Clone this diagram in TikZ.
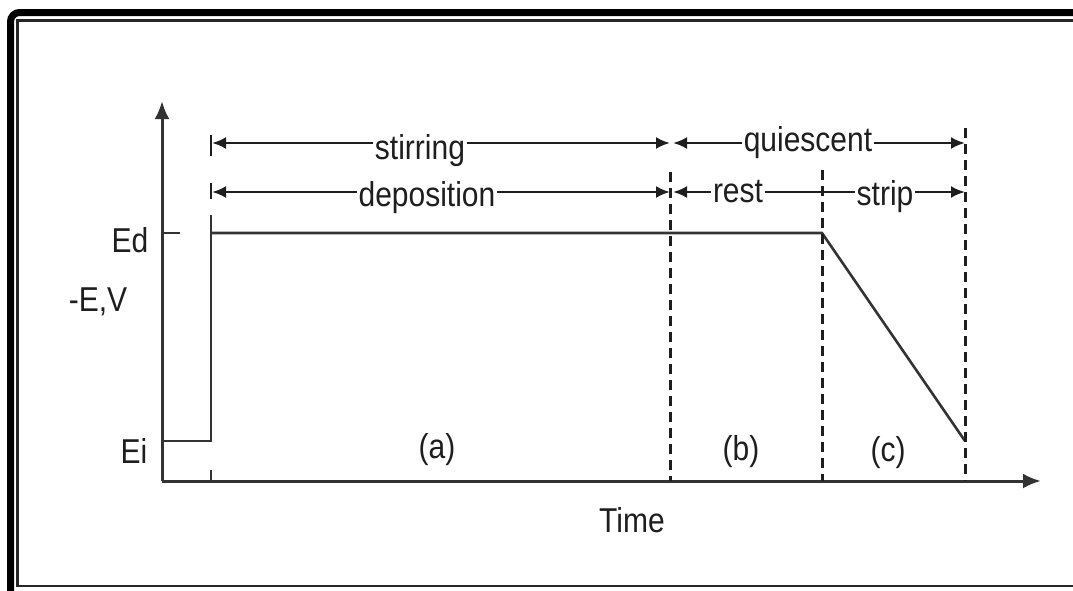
\documentclass[tikz,border=0pt]{standalone}
\usepackage{fontspec}
\setmainfont{Liberation Sans}
\usetikzlibrary{arrows.meta}
\definecolor{ink}{HTML}{1E1E1E}
\definecolor{wire}{HTML}{333333}
% text is set slightly taller than the font's natural proportions
\newcommand{\tallt}[1]{\scalebox{1}[1.15]{#1}}

\begin{document}
\begin{tikzpicture}[x=1pt,y=-1pt,
  lbl/.style={anchor=base, inner sep=0pt, text=ink, font=\fontsize{30}{34}\selectfont},
  dimlbl/.style={lbl, fill=white, inner xsep=2pt},
  axis/.style={draw=wire, line width=3pt, -{Latex[length=18pt,width=15pt]}},
  wave/.style={draw=wire, line width=2.6pt},
  dim/.style={draw=ink, line width=2.6pt},
  tipL/.style={{Latex[length=14pt,width=12pt]}-},
  tipR/.style={-{Latex[length=14pt,width=12pt]}},
  tipLR/.style={{Latex[length=14pt,width=12pt]}-{Latex[length=14pt,width=12pt]}},
  divider/.style={draw=ink, line width=3pt, dash pattern=on 10pt off 6pt}]

\useasboundingbox (0,0) rectangle (1073,590);

% frame
\begin{scope}
  \clip (0,0) rectangle (1073,590);
  \draw[line width=7pt, rounded corners=9pt] (10.5,12.5) rectangle (1120,640);
  \draw[line width=2.4pt, draw=black!85] (17.5,20.5) rectangle (1110,586);
\end{scope}

% axes
\coordinate (O) at (162,481);
\coordinate (ytop) at (162,101);
\coordinate (xend) at (1041,481);
\draw[axis] (O) -- (ytop);
\draw[axis] (O) -- (xend);

% potential waveform
\coordinate (ei0) at (162,441);
\coordinate (ei1) at (211,441);
\coordinate (stepTop) at (211,215);
\coordinate (ed0) at (211,233);
\coordinate (ed1) at (822,233);
\coordinate (ramp) at (965,441);
\draw[wave] (ei0) -- (ei1) -- (stepTop);
\draw[wave] (ed0) -- (ed1) -- (ramp);
\coordinate (edA) at (162,233);
\coordinate (edB) at (180,233);
\draw[wave] (edA) -- (edB);
\coordinate (tA) at (211,481);
\coordinate (tB) at (211,470);
\draw[wave] (tA) -- (tB);

% period dividers
\coordinate (d1t) at (670,172);  \coordinate (d1b) at (670,481);
\coordinate (d2t) at (822,170);  \coordinate (d2b) at (822,481);
\coordinate (d3t) at (965,128);  \coordinate (d3b) at (965,481);
\draw[divider] (d1t) -- (d1b);
\draw[divider] (d2t) -- (d2b);
\draw[divider] (d3t) -- (d3b);

% start bars of the dimension lines
\coordinate (b1t) at (211,135); \coordinate (b1b) at (211,156);
\coordinate (b2t) at (211,183); \coordinate (b2b) at (211,199);
\draw[dim] (b1t) -- (b1b);
\draw[dim] (b2t) -- (b2b);

% dimension lines
\coordinate (s0) at (212,143); \coordinate (s1) at (670,143);
\coordinate (q0) at (673,143); \coordinate (q1) at (965,143);
\coordinate (p0) at (212,192); \coordinate (p1) at (670,192);
\coordinate (r0) at (673,192); \coordinate (r1) at (822,192);
\coordinate (t0) at (822,192); \coordinate (t1) at (965,192);
\draw[dim, tipLR] (s0) -- (s1);
\draw[dim, tipLR] (q0) -- (q1);
\draw[dim, tipLR] (p0) -- (p1);
\draw[dim, tipL] (r0) -- (r1);
\draw[dim, tipR] (t0) -- (t1);

\node[dimlbl] (stir) at (420,159) {\tallt{stirring}};
\node[dimlbl] (quie) at (808,151) {\tallt{quiescent}};
\node[dimlbl] (depo) at (427,206) {\tallt{deposition}};
\node[dimlbl] (rest) at (738,202) {\tallt{rest}};
\node[dimlbl] (strp) at (885,205) {\tallt{strip}};

% axis labels
\node[lbl] (Ed) at (130,252) {\tallt{Ed}};
\node[lbl] (Ei) at (134,463) {\tallt{Ei}};
\node[lbl] (EV) at (98,311) {\tallt{-E,V}};
\node[lbl] (time) at (632,532) {\tallt{Time}};

% period labels
\node[lbl] (pa) at (437,458) {\tallt{(a)}};
\node[lbl] (pb) at (741,460) {\tallt{(b)}};
\node[lbl] (pc) at (888,461) {\tallt{(c)}};
\end{tikzpicture}
\end{document}
